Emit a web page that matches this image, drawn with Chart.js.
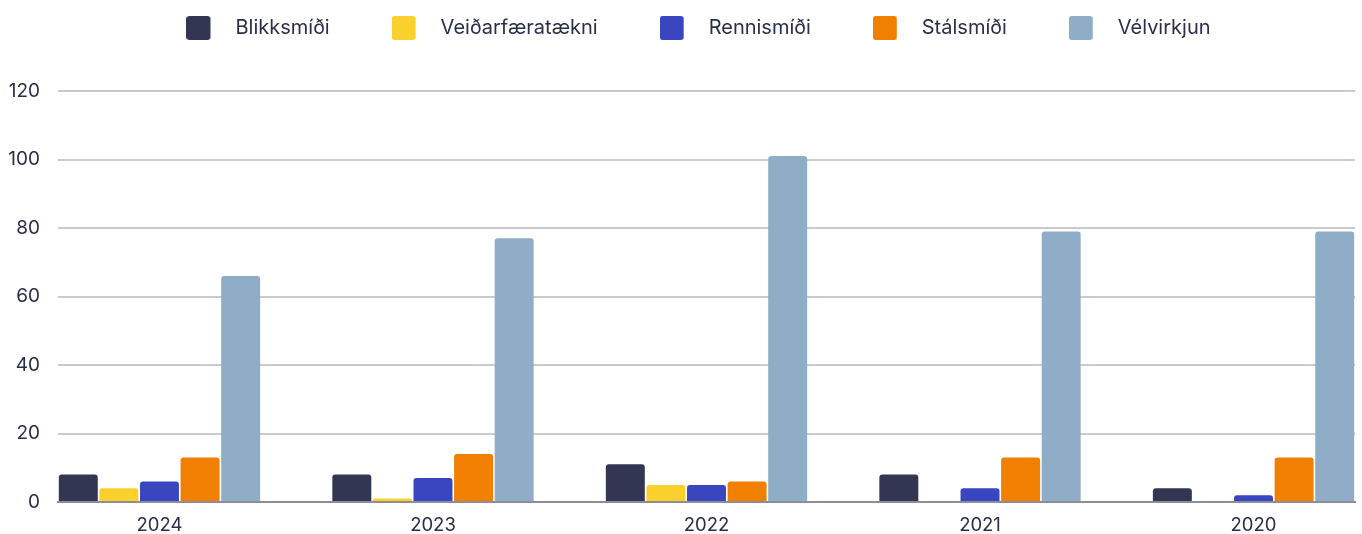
<!DOCTYPE html>
<html>
  <head>
    <meta charset="utf-8" />
    <title>Nemendur eftir námsbraut</title>
    <script src="https://cdn.jsdelivr.net/npm/chart.js"></script>
    <style>
      body { margin: 0; background: #fff; }
      .wrap { width: 1362px; height: 534px; position: relative; }
    </style>
  </head>
  <body>
    <div class="wrap">
      <canvas id="barChart"></canvas>
    </div>
    <script>
      // data
      var years = ["2024", "2023", "2022", "2021", "2020"];
      var blikksmidi = [8, 8, 11, 8, 4];
      var veidarfaeratakni = [4, 1, 5, 0, 0];
      var rennismidi = [6, 7, 5, 4, 2];
      var stalsmidi = [13, 14, 6, 13, 13];
      var velvirkjun = [66, 77, 101, 79, 79];
      var yTicks = [0, 20, 40, 60, 80, 100, 120];

      var textColor = "#2b2e4a";
      var fontFamily = "Inter, 'Noto Sans', sans-serif";

      // legend marker: rounded square with extra room on the right
      function legendMarker(color) {
        var c = document.createElement("canvas");
        c.width = 39;
        c.height = 24;
        var g = c.getContext("2d");
        g.fillStyle = color;
        g.beginPath();
        g.roundRect(0, 0, 24, 24, 3);
        g.fill();
        return c;
      }

      function makeSet(label, data, color) {
        return {
          label: label,
          data: data,
          backgroundColor: color,
          borderRadius: 3,
          borderSkipped: "start",
          barPercentage: 0.96,
          categoryPercentage: 0.742,
          pointStyle: legendMarker(color),
        };
      }

      // legend: keep wide item spacing but sit it near the top
      var legendPlace = {
        id: "legendPlace",
        beforeLayout: function (chart) {
          var lg = chart.legend;
          if (lg && !lg._wrapped) {
            var fit = lg.fit;
            lg.fit = function () {
              fit.call(this);
              this.height = 91;
            };
            lg._wrapped = true;
          }
        },
        afterLayout: function (chart) {
          var lg = chart.legend;
          var pad = lg.options.labels.padding;
          lg.top = 28 - pad - 10; // text centre at y = 28
          lg.left += 21;
          lg.right += 21;
        },
      };

      var ctx = document.getElementById("barChart").getContext("2d");
      var barChart = new Chart(ctx, {
        type: "bar",
        data: {
          labels: years,
          datasets: [
            makeSet("Blikksmíði", blikksmidi, "#333652"),
            makeSet("Veiðarfæratækni", veidarfaeratakni, "#fad12c"),
            makeSet("Rennismíði", rennismidi, "#3946c0"),
            makeSet("Stálsmíði", stalsmidi, "#f17f00"),
            makeSet("Vélvirkjun", velvirkjun, "#8fadc6"),
          ],
        },
        plugins: [legendPlace],
        options: {
          responsive: true,
          maintainAspectRatio: false,
          animation: false,
          layout: { padding: { top: 0, right: 7, left: 0, bottom: 0 } },
          plugins: {
            tooltip: { enabled: false },
            legend: {
              position: "top",
              labels: {
                usePointStyle: true,
                pointStyleWidth: 39,
                padding: 62,
                color: textColor,
                font: { family: fontFamily, size: 20 },
              },
            },
          },
          scales: {
            x: {
              // groups sit half a group width from the edges
              afterBuildTicks: function (s) {
                s._startValue = -0.371;
                s._valueRange = 4.742;
              },
              afterFit: function (s) {
                s.height = 32;
              },
              grid: { display: false, drawTicks: false },
              border: { display: true, color: "#8c8d99", width: 2 },
              ticks: {
                color: textColor,
                padding: 12,
                font: { family: fontFamily, size: 18.5 },
              },
            },
            y: {
              min: 0,
              max: 120,
              afterBuildTicks: function (s) {
                s.ticks = yTicks.map(function (v) { return { value: v }; });
              },
              afterFit: function (s) {
                s.width = 58;
              },
              border: { display: false },
              grid: {
                color: "#c9c9d1",
                lineWidth: 2,
                drawTicks: false,
              },
              ticks: {
                color: textColor,
                padding: 18,
                font: { family: fontFamily, size: 19 },
              },
            },
          },
        },
      });
    </script>
  </body>
</html>
